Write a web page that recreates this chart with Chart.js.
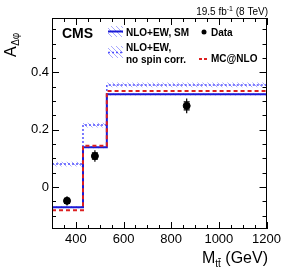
<!DOCTYPE html>
<html>
<head>
<meta charset="utf-8">
<script src="https://cdn.jsdelivr.net/npm/chart.js@4.4.0/dist/chart.umd.min.js"></script>
<style>
  html, body { margin: 0; padding: 0; background: #fff; }
  #wrap { width: 284px; height: 270px; }
</style>
</head>
<body>
<div id="wrap"><canvas id="asymChart" width="284" height="270"></canvas></div>
<script>
// M_tt bin edges (GeV) and the asymmetry per bin
const binEdges = [300, 430, 530, 1200];
const smValues = [-0.070, 0.139, 0.323];
const smErr = [0.004, 0.004, 0.004];
const noSpinValues = [0.080, 0.216, 0.356];
const noSpinErr = [0.008, 0.008, 0.008];
const mcatnloValues = [-0.081, 0.144, 0.335];
const dataX = [363, 480, 865];
const dataValues = [-0.048, 0.108, 0.283];
const dataErrTot = [0.016, 0.020, 0.026];
const dataErrStat = [0.009, 0.011, 0.014];
const xTickLabels = [400, 600, 800, 1000, 1200];
const yTickLabels = [0, 0.2, 0.4];

const FONT = '"Liberation Sans", Arial, Helvetica, sans-serif';
const SM_BLUE = '#1a1ad6';
const NOSPIN_BLUE = '#5050ff';
const HATCH_BLUE = '#a8a8ff';
const MC_RED = '#dd2020';

// histogram outline as stepped points (one per left edge + closing right edge)
function histPoints(values, shift) {
  const pts = values.map((v, i) => ({ x: binEdges[i], y: v + (shift ? shift[i] : 0) }));
  const last = values.length - 1;
  pts.push({ x: binEdges[last + 1], y: values[last] + (shift ? shift[last] : 0) });
  return pts;
}
const neg = arr => arr.map(v => -v);

function makeHatch(ctx, color) {
  const c = document.createElement('canvas');
  c.width = 5; c.height = 5;
  const g = c.getContext('2d');
  g.strokeStyle = color;
  g.lineWidth = 1;
  g.beginPath();
  g.moveTo(0, 0); g.lineTo(5, 5);
  g.moveTo(-1, 4); g.lineTo(1, 6);
  g.moveTo(4, -1); g.lineTo(6, 1);
  g.stroke();
  return ctx.createPattern(c, 'repeat');
}

const canvas = document.getElementById('asymChart');
const ctx = canvas.getContext('2d');
const hatch = makeHatch(ctx, HATCH_BLUE);

function isTick(list, v) {
  return list.some(t => Math.abs(t - v) < 1e-6);
}

// frame, inner ticks, axis titles, legend and labels
const decorPlugin = {
  id: 'decor',
  afterDatasetsDraw(chart) {
    const c = chart.ctx;
    const xs = chart.scales.x, ys = chart.scales.y;
    // error bars for data
    c.save();
    c.strokeStyle = '#000';
    c.lineWidth = 1.2;
    dataX.forEach((x, i) => {
      const px = xs.getPixelForValue(x);
      const top = ys.getPixelForValue(dataValues[i] + dataErrTot[i]);
      const bot = ys.getPixelForValue(dataValues[i] - dataErrTot[i]);
      c.beginPath();
      c.moveTo(px, top); c.lineTo(px, bot);
      [dataErrStat[i], -dataErrStat[i]].forEach(e => {
        const py = ys.getPixelForValue(dataValues[i] + e);
        c.moveTo(px - 3, py); c.lineTo(px + 3, py);
      });
      c.stroke();
    });
    c.restore();
  },
  afterDraw(chart) {
    const c = chart.ctx;
    const xs = chart.scales.x, ys = chart.scales.y;
    const a = chart.chartArea;
    c.save();
    c.strokeStyle = '#000';
    c.lineWidth = 1;
    c.strokeRect(Math.round(a.left) + 0.5, Math.round(a.top) + 0.5,
                 Math.round(a.right - a.left) - 1, Math.round(a.bottom - a.top) - 1);
    c.beginPath();
    for (let v = 300; v <= 1200; v += 50) {
      const px = Math.round(xs.getPixelForValue(v)) + 0.5;
      const len = v % 200 === 0 ? 7 : 4;
      c.moveTo(px, a.bottom); c.lineTo(px, a.bottom - len);
      c.moveTo(px, a.top); c.lineTo(px, a.top + len);
    }
    for (let k = -2; k <= 11; k++) {
      const v = k * 0.05;
      if (v < ys.min || v > ys.max) continue;
      const py = Math.round(ys.getPixelForValue(v)) + 0.5;
      const len = k % 4 === 0 ? 7 : 4;
      c.moveTo(a.left, py); c.lineTo(a.left + len, py);
      c.moveTo(a.right, py); c.lineTo(a.right - len, py);
    }
    c.stroke();

    c.fillStyle = '#000';
    // y title A_{Δφ}
    c.save();
    c.translate(16, 57);
    c.rotate(-Math.PI / 2);
    c.textAlign = 'left';
    c.textBaseline = 'alphabetic';
    c.font = '16px ' + FONT;
    c.fillText('A', 0, 0);
    const wA = c.measureText('A').width;
    c.font = '10px ' + FONT;
    c.fillText('\u0394\u03c6', wA + 0.5, 3);
    c.restore();

    // x title M_{tt̄} (GeV)
    c.textBaseline = 'alphabetic';
    c.textAlign = 'left';
    c.font = '16px ' + FONT;
    const wM = c.measureText('M').width;
    const wG = c.measureText(' (GeV)').width;
    c.font = '10px ' + FONT;
    const wt = c.measureText('tt').width;
    const w1 = c.measureText('t').width;
    const x0 = 268 - (wM + wt + wG);
    c.font = '16px ' + FONT;
    c.fillText('M', x0, 263);
    c.font = '10px ' + FONT;
    c.fillText('tt', x0 + wM, 267);
    c.fillRect(x0 + wM + w1, 258, w1, 0.8);
    c.font = '16px ' + FONT;
    c.fillText(' (GeV)', x0 + wM + wt, 263);

    // lumi label
    c.textAlign = 'right';
    c.font = '10px ' + FONT;
    const tail = ' (8 TeV)';
    const wTail = c.measureText(tail).width;
    c.fillText(tail, 268, 15);
    c.font = '7px ' + FONT;
    const wSup = c.measureText('-1').width;
    c.fillText('-1', 268 - wTail, 11);
    c.font = '10px ' + FONT;
    c.fillText('19.5 fb', 268 - wTail - wSup, 15);

    // CMS
    c.textAlign = 'left';
    c.font = 'bold 14px ' + FONT;
    c.fillText('CMS', 62, 38);

    // legend
    c.fillStyle = hatch;
    c.fillRect(108, 26, 15, 11);
    c.fillRect(108, 46, 15, 12);
    c.strokeStyle = SM_BLUE;
    c.lineWidth = 2;
    c.beginPath(); c.moveTo(108, 31.5); c.lineTo(123, 31.5); c.stroke();
    c.strokeStyle = NOSPIN_BLUE;
    c.lineWidth = 1.5;
    c.setLineDash([2, 2]);
    c.beginPath(); c.moveTo(108, 52.5); c.lineTo(123, 52.5); c.stroke();
    c.strokeStyle = MC_RED;
    c.lineWidth = 2;
    c.setLineDash([3, 2]);
    c.beginPath(); c.moveTo(199, 59); c.lineTo(208, 59); c.stroke();
    c.setLineDash([]);
    c.fillStyle = '#000';
    c.beginPath(); c.arc(204, 32, 2.5, 0, Math.PI * 2); c.fill();
    c.font = 'bold 10px ' + FONT;
    c.fillText('NLO+EW, SM', 126, 36);
    c.fillText('NLO+EW,', 126, 51);
    c.fillText('no spin corr.', 126, 63);
    c.fillText('Data', 211, 36);
    c.fillText('MC@NLO', 211, 62);
    c.restore();
  }
};

const chart = new Chart(canvas, {
  type: 'line',
  data: {
    datasets: [
      {
        label: 'Data',
        data: dataX.map((x, i) => ({ x: x, y: dataValues[i] })),
        showLine: false,
        pointRadius: 3.5,
        pointBackgroundColor: '#000',
        pointBorderColor: '#000',
        order: 0
      },
      {
        label: 'MC@NLO',
        data: histPoints(mcatnloValues),
        stepped: 'before',
        borderColor: MC_RED,
        borderWidth: 2,
        borderDash: [4, 3],
        pointRadius: 0,
        fill: false,
        order: 1
      },
      {
        label: 'NLO+EW, SM',
        data: histPoints(smValues),
        stepped: 'before',
        borderColor: SM_BLUE,
        borderWidth: 2,
        pointRadius: 0,
        fill: false,
        order: 2
      },
      {
        label: 'NLO+EW, no spin corr.',
        data: histPoints(noSpinValues),
        stepped: 'before',
        borderColor: NOSPIN_BLUE,
        borderWidth: 1.5,
        borderDash: [2, 2],
        pointRadius: 0,
        fill: false,
        order: 3
      },
      {
        label: 'sm band up',
        data: histPoints(smValues, smErr),
        stepped: 'before',
        borderWidth: 0,
        borderColor: 'rgba(0,0,0,0)',
        pointRadius: 0,
        backgroundColor: hatch,
        fill: '+1',
        order: 4
      },
      {
        label: 'sm band down',
        data: histPoints(smValues, neg(smErr)),
        stepped: 'before',
        borderWidth: 0,
        borderColor: 'rgba(0,0,0,0)',
        pointRadius: 0,
        fill: false,
        order: 5
      },
      {
        label: 'nospin band up',
        data: histPoints(noSpinValues, noSpinErr),
        stepped: 'before',
        borderWidth: 0,
        borderColor: 'rgba(0,0,0,0)',
        pointRadius: 0,
        backgroundColor: hatch,
        fill: '+1',
        order: 6
      },
      {
        label: 'nospin band down',
        data: histPoints(noSpinValues, neg(noSpinErr)),
        stepped: 'before',
        borderWidth: 0,
        borderColor: 'rgba(0,0,0,0)',
        pointRadius: 0,
        fill: false,
        order: 7
      }
    ]
  },
  options: {
    responsive: false,
    animation: false,
    layout: { padding: { top: 18, right: 15, left: 0, bottom: 0 } },
    plugins: {
      legend: { display: false },
      tooltip: { enabled: false }
    },
    scales: {
      x: {
        type: 'linear',
        min: 300,
        max: 1200,
        grid: { display: false, drawTicks: false },
        border: { display: false },
        afterBuildTicks: s => { s.ticks = xTickLabels.map(v => ({ value: v })); },
        afterFit: s => { s.height = 41; },
        ticks: {
          autoSkip: false,
          maxRotation: 0,
          padding: 3,
          color: '#000',
          font: { family: FONT, size: 13 },
          callback: v => isTick(xTickLabels, v) ? String(v) : ''
        }
      },
      y: {
        type: 'linear',
        min: -0.146,
        max: 0.589,
        grid: { display: false, drawTicks: false },
        border: { display: false },
        afterBuildTicks: s => { s.ticks = yTickLabels.map(v => ({ value: v })); },
        afterFit: s => { s.width = 52; },
        ticks: {
          autoSkip: false,
          padding: 3,
          color: '#000',
          font: { family: FONT, size: 13 },
          callback: v => isTick(yTickLabels, v) ? (v === 0 ? '0' : v.toFixed(1)) : ''
        }
      }
    }
  },
  plugins: [decorPlugin]
});
</script>
</body>
</html>
